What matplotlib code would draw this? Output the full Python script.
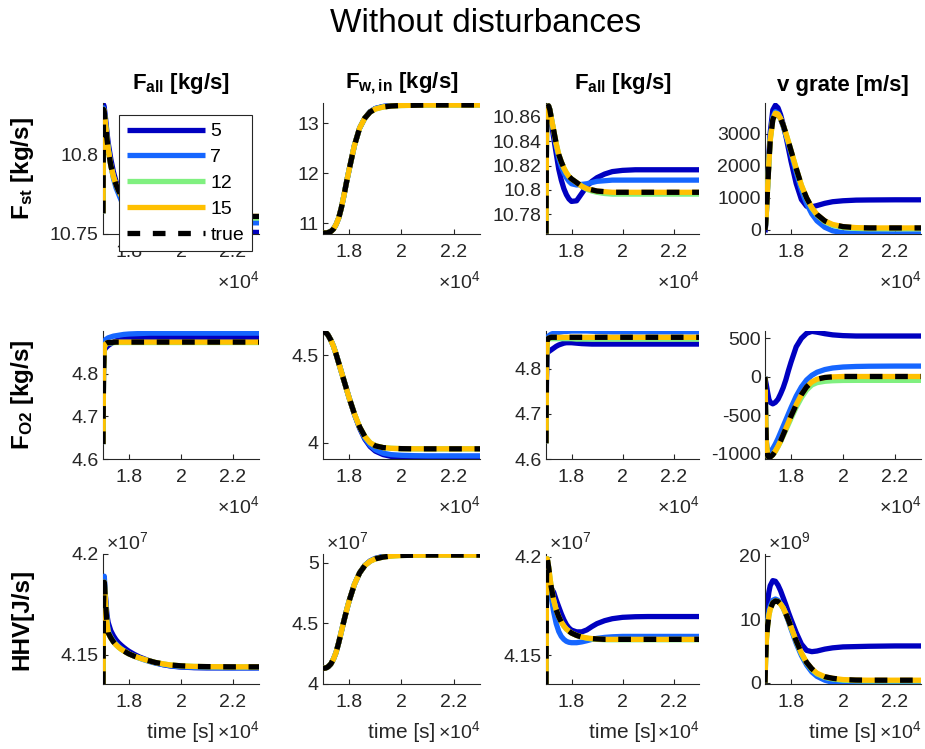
import matplotlib
matplotlib.use('Agg')
import matplotlib.pyplot as plt

plt.rcParams['font.family'] = ['Liberation Sans', 'DejaVu Sans']
plt.rcParams['mathtext.fontset'] = 'custom'
plt.rcParams['mathtext.rm'] = 'Liberation Sans'
plt.rcParams['mathtext.bf'] = 'Liberation Sans:bold'
plt.rcParams['mathtext.it'] = 'Liberation Sans:italic'

# ---------------- data ----------------
time_s = [17000, 17020, 17050, 17100, 17150, 17200, 17300, 17400, 17500, 17600,
          17700, 17800, 17900, 18000, 18200, 18400, 18600, 18800, 19000, 19300,
          19600, 20000, 20500, 21000, 22000, 23000]

series_labels = ['5', '7', '12', '15', 'true']
col_titles = [r'$\mathbf{F_{all}}$ [kg/s]', r'$\mathbf{F_{w,in}}$ [kg/s]',
              r'$\mathbf{F_{all}}$ [kg/s]', 'v grate [m/s]']
row_labels = [r'$\mathbf{F_{st}}$ [kg/s]', r'$\mathbf{F_{O2}}$ [kg/s]', 'HHV[J/s]']
xtick_vals = [18000, 20000, 22000]
xtick_labels = ['1.8', '2', '2.2']

# Row 1: F_st
fst_fall_5 = [10.763, 10.831, 10.829, 10.822, 10.814, 10.807, 10.797, 10.789, 10.783, 10.778, 10.773, 10.769, 10.766, 10.763, 10.759, 10.756, 10.754, 10.753, 10.752, 10.7515, 10.751, 10.751, 10.751, 10.751, 10.751, 10.751]
fst_fall_7 = [10.763, 10.829, 10.827, 10.819, 10.811, 10.804, 10.793, 10.785, 10.779, 10.775, 10.771, 10.768, 10.766, 10.764, 10.762, 10.760, 10.759, 10.758, 10.7575, 10.757, 10.757, 10.757, 10.757, 10.757, 10.757, 10.757]
fst_fall_12 = [10.763, 10.828, 10.826, 10.818, 10.810, 10.803, 10.793, 10.786, 10.781, 10.777, 10.774, 10.771, 10.769, 10.768, 10.766, 10.765, 10.764, 10.763, 10.762, 10.7615, 10.761, 10.7605, 10.760, 10.760, 10.760, 10.760]
fst_fall_15 = [10.763, 10.828, 10.826, 10.818, 10.810, 10.803, 10.793, 10.786, 10.781, 10.777, 10.774, 10.772, 10.770, 10.769, 10.767, 10.766, 10.765, 10.764, 10.763, 10.7625, 10.762, 10.7615, 10.761, 10.761, 10.761, 10.761]
fst_fall_true = [10.763, 10.828, 10.826, 10.818, 10.810, 10.803, 10.793, 10.786, 10.781, 10.777, 10.774, 10.772, 10.770, 10.769, 10.767, 10.766, 10.765, 10.764, 10.763, 10.7625, 10.762, 10.7615, 10.761, 10.761, 10.761, 10.761]

fst_fwin_5 = [10.80, 10.80, 10.80, 10.80, 10.80, 10.81, 10.83, 10.88, 10.97, 11.10, 11.30, 11.55, 11.82, 12.07, 12.55, 12.90, 13.10, 13.225, 13.29, 13.33, 13.35, 13.36, 13.365, 13.37, 13.37, 13.37]
fst_fwin_7 = [10.80, 10.80, 10.80, 10.80, 10.80, 10.81, 10.83, 10.88, 10.97, 11.10, 11.30, 11.55, 11.82, 12.07, 12.55, 12.90, 13.10, 13.225, 13.29, 13.33, 13.35, 13.36, 13.365, 13.37, 13.37, 13.37]
fst_fwin_12 = [10.80, 10.80, 10.80, 10.80, 10.80, 10.81, 10.83, 10.88, 10.97, 11.10, 11.30, 11.55, 11.82, 12.07, 12.55, 12.90, 13.10, 13.22, 13.28, 13.32, 13.34, 13.35, 13.355, 13.36, 13.36, 13.36]
fst_fwin_15 = [10.80, 10.80, 10.80, 10.80, 10.80, 10.81, 10.83, 10.88, 10.97, 11.10, 11.30, 11.55, 11.82, 12.07, 12.55, 12.90, 13.10, 13.22, 13.28, 13.32, 13.34, 13.35, 13.355, 13.36, 13.36, 13.36]
fst_fwin_true = [10.80, 10.80, 10.80, 10.80, 10.80, 10.81, 10.83, 10.88, 10.97, 11.10, 11.30, 11.55, 11.82, 12.07, 12.55, 12.90, 13.10, 13.22, 13.28, 13.32, 13.34, 13.35, 13.355, 13.36, 13.36, 13.36]

fst_fall2_5 = [10.764, 10.852, 10.868, 10.869, 10.864, 10.856, 10.843, 10.830, 10.817, 10.808, 10.801, 10.796, 10.7925, 10.7905, 10.791, 10.797, 10.803, 10.807, 10.810, 10.813, 10.815, 10.816, 10.8165, 10.8165, 10.8165, 10.8165]
fst_fall2_7 = [10.764, 10.850, 10.866, 10.869, 10.866, 10.860, 10.848, 10.836, 10.826, 10.819, 10.814, 10.810, 10.807, 10.805, 10.804, 10.8045, 10.805, 10.806, 10.807, 10.8075, 10.808, 10.808, 10.808, 10.808, 10.808, 10.808]
fst_fall2_12 = [10.764, 10.850, 10.866, 10.869, 10.866, 10.860, 10.849, 10.838, 10.829, 10.823, 10.818, 10.814, 10.811, 10.809, 10.806, 10.803, 10.8005, 10.799, 10.798, 10.797, 10.7965, 10.7965, 10.7965, 10.7965, 10.7965, 10.7965]
fst_fall2_15 = [10.764, 10.850, 10.866, 10.869, 10.866, 10.860, 10.849, 10.838, 10.829, 10.823, 10.818, 10.814, 10.811, 10.809, 10.806, 10.803, 10.801, 10.800, 10.799, 10.7985, 10.798, 10.798, 10.798, 10.798, 10.798, 10.798]
fst_fall2_true = [10.764, 10.850, 10.866, 10.869, 10.866, 10.860, 10.849, 10.838, 10.829, 10.823, 10.818, 10.814, 10.811, 10.809, 10.806, 10.803, 10.801, 10.800, 10.799, 10.7985, 10.798, 10.798, 10.798, 10.798, 10.798, 10.798]

fst_vgrate_5 = [-80, 100, 500, 1400, 2300, 3050, 3750, 3900, 3820, 3600, 3300, 2950, 2550, 2150, 1450, 950, 740, 720, 760, 830, 880, 910, 930, 935, 940, 940]
fst_vgrate_7 = [0, 160, 520, 1350, 2150, 2880, 3520, 3700, 3640, 3470, 3240, 2970, 2690, 2400, 1800, 1250, 820, 500, 280, 80, -30, -90, -115, -120, -125, -125]
fst_vgrate_12 = [0, 150, 500, 1300, 2100, 2800, 3450, 3650, 3620, 3480, 3280, 3030, 2760, 2480, 1920, 1390, 985, 680, 460, 255, 145, 75, 45, 35, 35, 35]
fst_vgrate_15 = [0, 150, 500, 1300, 2100, 2800, 3450, 3650, 3620, 3480, 3280, 3030, 2760, 2480, 1920, 1400, 1000, 700, 480, 280, 170, 100, 70, 60, 60, 60]
fst_vgrate_true = [0, 150, 500, 1300, 2100, 2800, 3450, 3650, 3620, 3480, 3280, 3030, 2760, 2480, 1920, 1400, 1000, 700, 480, 280, 170, 100, 70, 60, 60, 60]

# Row 2: F_O2
fo2_fall_5 = [4.635, 4.800, 4.855, 4.860, 4.863, 4.866, 4.870, 4.874, 4.877, 4.879, 4.880, 4.881, 4.882, 4.883, 4.884, 4.884, 4.885, 4.885, 4.885, 4.885, 4.885, 4.885, 4.885, 4.885, 4.885, 4.885]
fo2_fall_7 = [4.635, 4.820, 4.875, 4.880, 4.882, 4.884, 4.886, 4.888, 4.889, 4.890, 4.891, 4.892, 4.8925, 4.893, 4.8935, 4.894, 4.8945, 4.895, 4.895, 4.895, 4.895, 4.895, 4.895, 4.895, 4.895, 4.895]
fo2_fall_12 = [4.635, 4.800, 4.861, 4.869, 4.871, 4.872, 4.872, 4.8725, 4.873, 4.873, 4.873, 4.873, 4.873, 4.873, 4.873, 4.873, 4.873, 4.873, 4.873, 4.873, 4.873, 4.873, 4.873, 4.873, 4.873, 4.873]
fo2_fall_15 = [4.635, 4.800, 4.862, 4.870, 4.872, 4.873, 4.873, 4.8735, 4.874, 4.874, 4.874, 4.874, 4.874, 4.874, 4.874, 4.874, 4.874, 4.874, 4.874, 4.874, 4.874, 4.874, 4.874, 4.874, 4.874, 4.874]
fo2_fall_true = [4.635, 4.800, 4.862, 4.870, 4.872, 4.873, 4.873, 4.8735, 4.874, 4.874, 4.874, 4.874, 4.874, 4.874, 4.874, 4.874, 4.874, 4.874, 4.874, 4.874, 4.874, 4.874, 4.874, 4.874, 4.874, 4.874]

fo2_fwin_5 = [4.630, 4.630, 4.630, 4.628, 4.622, 4.612, 4.585, 4.550, 4.505, 4.455, 4.405, 4.355, 4.305, 4.255, 4.162, 4.082, 4.020, 3.978, 3.952, 3.932, 3.922, 3.916, 3.914, 3.913, 3.913, 3.913]
fo2_fwin_7 = [4.630, 4.630, 4.630, 4.628, 4.622, 4.612, 4.585, 4.550, 4.505, 4.455, 4.405, 4.355, 4.305, 4.255, 4.163, 4.085, 4.025, 3.985, 3.960, 3.940, 3.932, 3.928, 3.926, 3.925, 3.925, 3.925]
fo2_fwin_12 = [4.630, 4.630, 4.630, 4.628, 4.622, 4.612, 4.585, 4.550, 4.505, 4.455, 4.405, 4.355, 4.305, 4.255, 4.165, 4.090, 4.035, 4.000, 3.982, 3.972, 3.968, 3.966, 3.965, 3.965, 3.965, 3.965]
fo2_fwin_15 = [4.630, 4.630, 4.630, 4.628, 4.622, 4.612, 4.585, 4.550, 4.505, 4.455, 4.405, 4.355, 4.305, 4.255, 4.165, 4.090, 4.035, 4.000, 3.982, 3.972, 3.968, 3.966, 3.965, 3.965, 3.965, 3.965]
fo2_fwin_true = [4.630, 4.630, 4.630, 4.628, 4.622, 4.612, 4.585, 4.550, 4.505, 4.455, 4.405, 4.355, 4.305, 4.255, 4.165, 4.090, 4.035, 4.000, 3.982, 3.972, 3.968, 3.966, 3.965, 3.965, 3.965, 3.965]

fo2_fall2_5 = [4.635, 4.780, 4.835, 4.838, 4.840, 4.842, 4.846, 4.850, 4.853, 4.855, 4.857, 4.858, 4.858, 4.858, 4.857, 4.856, 4.8555, 4.855, 4.855, 4.855, 4.855, 4.855, 4.855, 4.855, 4.855, 4.855]
fo2_fall2_7 = [4.635, 4.830, 4.870, 4.873, 4.875, 4.877, 4.879, 4.880, 4.881, 4.882, 4.883, 4.883, 4.8835, 4.884, 4.884, 4.884, 4.884, 4.8835, 4.883, 4.8825, 4.882, 4.882, 4.882, 4.882, 4.882, 4.882]
fo2_fall2_12 = [4.635, 4.820, 4.864, 4.867, 4.867, 4.867, 4.867, 4.867, 4.867, 4.867, 4.867, 4.867, 4.867, 4.867, 4.866, 4.866, 4.866, 4.866, 4.866, 4.866, 4.866, 4.866, 4.866, 4.866, 4.866, 4.866]
fo2_fall2_15 = [4.635, 4.820, 4.865, 4.868, 4.869, 4.870, 4.870, 4.870, 4.870, 4.870, 4.870, 4.870, 4.870, 4.870, 4.870, 4.870, 4.870, 4.870, 4.870, 4.870, 4.870, 4.870, 4.870, 4.870, 4.870, 4.870]
fo2_fall2_true = [4.635, 4.820, 4.865, 4.868, 4.869, 4.870, 4.870, 4.870, 4.870, 4.870, 4.870, 4.870, 4.870, 4.870, 4.870, 4.870, 4.870, 4.870, 4.870, 4.870, 4.870, 4.870, 4.870, 4.870, 4.870, 4.870]

fo2_vgrate_5 = [0, -50, -100, -200, -290, -330, -350, -330, -290, -220, -140, -40, 80, 190, 390, 500, 565, 590, 580, 560, 545, 535, 530, 530, 530, 530]
fo2_vgrate_7 = [0, -380, -820, -980, -990, -970, -930, -870, -800, -720, -640, -560, -480, -400, -250, -130, -40, 20, 60, 95, 115, 128, 135, 138, 140, 140]
fo2_vgrate_12 = [0, -400, -850, -1020, -1045, -1040, -1010, -965, -905, -840, -765, -690, -615, -540, -395, -270, -170, -105, -75, -57, -50, -46, -45, -45, -45, -45]
fo2_vgrate_15 = [0, -400, -850, -1020, -1045, -1040, -1010, -960, -900, -830, -750, -670, -590, -510, -360, -230, -130, -65, -30, -8, 0, 5, 5, 5, 5, 5]
fo2_vgrate_true = [0, -400, -850, -1020, -1045, -1040, -1010, -960, -900, -830, -750, -670, -590, -510, -360, -230, -130, -65, -30, -8, 0, 5, 5, 5, 5, 5]

# Row 3: HHV (in units of 1e7 J/s, last column 1e9)
hhv_fall_5 = [4.1356, 4.176, 4.187, 4.178, 4.170, 4.166, 4.162, 4.1595, 4.1575, 4.156, 4.1548, 4.1537, 4.1527, 4.1518, 4.1503, 4.149, 4.148, 4.147, 4.1462, 4.1452, 4.1445, 4.144, 4.1437, 4.1436, 4.1436, 4.1436]
hhv_fall_7 = [4.1356, 4.178, 4.189, 4.177, 4.168, 4.162, 4.159, 4.157, 4.1555, 4.1542, 4.1531, 4.1522, 4.1514, 4.1506, 4.1494, 4.1484, 4.1475, 4.1467, 4.146, 4.1452, 4.1446, 4.1441, 4.1438, 4.1437, 4.1436, 4.1436]
hhv_fall_12 = [4.1356, 4.175, 4.186, 4.175, 4.166, 4.161, 4.1585, 4.1565, 4.155, 4.1538, 4.1528, 4.152, 4.1512, 4.1505, 4.1494, 4.1485, 4.1477, 4.147, 4.1463, 4.1456, 4.145, 4.1446, 4.1443, 4.1442, 4.1441, 4.1441]
hhv_fall_15 = [4.1356, 4.175, 4.186, 4.175, 4.166, 4.161, 4.1585, 4.1565, 4.155, 4.1538, 4.1528, 4.152, 4.1512, 4.1505, 4.1494, 4.1485, 4.1477, 4.147, 4.1463, 4.1456, 4.145, 4.1446, 4.1443, 4.1442, 4.1441, 4.1441]
hhv_fall_true = [4.1356, 4.175, 4.186, 4.175, 4.166, 4.161, 4.1585, 4.1565, 4.155, 4.1538, 4.1528, 4.152, 4.1512, 4.1505, 4.1494, 4.1485, 4.1477, 4.147, 4.1463, 4.1456, 4.145, 4.1446, 4.1443, 4.1442, 4.1441, 4.1441]

hhv_fwin_5 = [4.13, 4.13, 4.13, 4.132, 4.136, 4.143, 4.165, 4.205, 4.26, 4.34, 4.43, 4.52, 4.605, 4.685, 4.82, 4.915, 4.977, 5.013, 5.034, 5.05, 5.058, 5.063, 5.065, 5.066, 5.066, 5.066]
hhv_fwin_7 = [4.13, 4.13, 4.13, 4.132, 4.136, 4.143, 4.165, 4.205, 4.26, 4.34, 4.43, 4.52, 4.605, 4.685, 4.82, 4.915, 4.976, 5.012, 5.033, 5.049, 5.057, 5.062, 5.064, 5.065, 5.065, 5.065]
hhv_fwin_12 = [4.13, 4.13, 4.13, 4.132, 4.136, 4.143, 4.165, 4.205, 4.26, 4.34, 4.43, 4.52, 4.605, 4.685, 4.82, 4.915, 4.975, 5.01, 5.03, 5.045, 5.053, 5.058, 5.06, 5.061, 5.061, 5.061]
hhv_fwin_15 = [4.13, 4.13, 4.13, 4.132, 4.136, 4.143, 4.165, 4.205, 4.26, 4.34, 4.43, 4.52, 4.605, 4.685, 4.82, 4.915, 4.975, 5.01, 5.03, 5.045, 5.053, 5.058, 5.06, 5.061, 5.061, 5.061]
hhv_fwin_true = [4.13, 4.13, 4.13, 4.132, 4.136, 4.143, 4.165, 4.205, 4.26, 4.34, 4.43, 4.52, 4.605, 4.685, 4.82, 4.915, 4.975, 5.01, 5.03, 5.045, 5.053, 5.058, 5.06, 5.061, 5.061, 5.061]

hhv_fall2_5 = [4.1353, 4.190, 4.195, 4.187, 4.184, 4.184, 4.182, 4.178, 4.1745, 4.171, 4.168, 4.1655, 4.1638, 4.1627, 4.1618, 4.1618, 4.1628, 4.1645, 4.166, 4.1675, 4.1685, 4.1692, 4.1695, 4.1696, 4.1696, 4.1696]
hhv_fall2_7 = [4.1353, 4.190, 4.199, 4.193, 4.186, 4.180, 4.172, 4.166, 4.162, 4.1595, 4.158, 4.157, 4.1565, 4.1563, 4.1563, 4.1567, 4.1573, 4.158, 4.1585, 4.159, 4.1593, 4.1595, 4.1595, 4.1595, 4.1595, 4.1595]
hhv_fall2_12 = [4.1353, 4.190, 4.199, 4.195, 4.190, 4.185, 4.178, 4.173, 4.1695, 4.1668, 4.1648, 4.1632, 4.1622, 4.1612, 4.1600, 4.1592, 4.1586, 4.1582, 4.158, 4.1578, 4.1578, 4.1578, 4.1578, 4.1578, 4.1578, 4.1578]
hhv_fall2_15 = [4.1353, 4.190, 4.199, 4.195, 4.190, 4.185, 4.178, 4.173, 4.1695, 4.1668, 4.1648, 4.1632, 4.1622, 4.1612, 4.1600, 4.1592, 4.1587, 4.1584, 4.1582, 4.158, 4.158, 4.158, 4.158, 4.158, 4.158, 4.158]
hhv_fall2_true = [4.1353, 4.190, 4.199, 4.195, 4.190, 4.185, 4.178, 4.173, 4.1695, 4.1668, 4.1648, 4.1632, 4.1622, 4.1612, 4.1600, 4.1592, 4.1587, 4.1584, 4.1582, 4.158, 4.158, 4.158, 4.158, 4.158, 4.158, 4.158]

hhv_vgrate_5 = [0, 5.0, 10.0, 12.8, 14.3, 15.3, 16.1, 16.0, 15.4, 14.5, 13.4, 12.3, 11.1, 10.0, 7.9, 6.1, 5.1, 4.9, 5.0, 5.3, 5.5, 5.65, 5.7, 5.75, 5.8, 5.8]
hhv_vgrate_7 = [0, 3.5, 7.0, 9.6, 11.2, 12.1, 13.0, 13.2, 13.0, 12.5, 11.8, 10.8, 9.7, 8.5, 6.2, 4.3, 2.8, 1.7, 1.0, 0.4, 0.05, -0.15, -0.25, -0.3, -0.3, -0.3]
hhv_vgrate_12 = [0, 3.0, 6.5, 9.0, 10.6, 11.6, 12.6, 12.9, 12.8, 12.4, 11.8, 10.9, 9.9, 8.8, 6.5, 4.6, 3.1, 2.1, 1.4, 0.85, 0.6, 0.4, 0.32, 0.3, 0.3, 0.3]
hhv_vgrate_15 = [0, 3.0, 6.5, 9.0, 10.6, 11.6, 12.6, 12.9, 12.8, 12.4, 11.8, 10.9, 9.9, 8.8, 6.6, 4.7, 3.2, 2.2, 1.5, 0.95, 0.7, 0.5, 0.42, 0.4, 0.4, 0.4]
hhv_vgrate_true = [0, 3.0, 6.5, 9.0, 10.6, 11.6, 12.6, 12.9, 12.8, 12.4, 11.8, 10.9, 9.9, 8.8, 6.6, 4.7, 3.2, 2.2, 1.5, 0.95, 0.7, 0.5, 0.42, 0.4, 0.4, 0.4]

# per-panel y ticks
yticks_grid = [
    [[10.75, 10.8], [11, 12, 13], [10.78, 10.8, 10.82, 10.84, 10.86], [0, 1000, 2000, 3000]],
    [[4.6, 4.7, 4.8], [4, 4.5], [4.6, 4.7, 4.8], [-1000, -500, 0, 500]],
    [[4.15, 4.2], [4, 4.5, 5], [4.15, 4.2], [0, 10, 20]],
]
ylabels_grid = [
    [['10.75', '10.8'], ['11', '12', '13'], ['10.78', '10.8', '10.82', '10.84', '10.86'], ['0', '1000', '2000', '3000']],
    [['4.6', '4.7', '4.8'], ['4', '4.5'], ['4.6', '4.7', '4.8'], ['-1000', '-500', '0', '500']],
    [['4.15', '4.2'], ['4', '4.5', '5'], ['4.15', '4.2'], ['0', '10', '20']],
]
ylims_grid = [
    [(10.75, 10.832), (10.78, 13.4), (10.7637, 10.8714), (-130, 3970)],
    [(4.6, 4.9), (3.907, 4.637), (4.6, 4.884), (-1065, 595)],
    [(4.1356, 4.2), (4.0, 5.07), (4.1353, 4.2014), (-0.2, 20.3)],
]
y_exponents = [[None, None, None, None], [None, None, None, None], ['7', '7', '7', '9']]

panels = [
    [(fst_fall_5, fst_fall_7, fst_fall_12, fst_fall_15, fst_fall_true),
     (fst_fwin_5, fst_fwin_7, fst_fwin_12, fst_fwin_15, fst_fwin_true),
     (fst_fall2_5, fst_fall2_7, fst_fall2_12, fst_fall2_15, fst_fall2_true),
     (fst_vgrate_5, fst_vgrate_7, fst_vgrate_12, fst_vgrate_15, fst_vgrate_true)],
    [(fo2_fall_5, fo2_fall_7, fo2_fall_12, fo2_fall_15, fo2_fall_true),
     (fo2_fwin_5, fo2_fwin_7, fo2_fwin_12, fo2_fwin_15, fo2_fwin_true),
     (fo2_fall2_5, fo2_fall2_7, fo2_fall2_12, fo2_fall2_15, fo2_fall2_true),
     (fo2_vgrate_5, fo2_vgrate_7, fo2_vgrate_12, fo2_vgrate_15, fo2_vgrate_true)],
    [(hhv_fall_5, hhv_fall_7, hhv_fall_12, hhv_fall_15, hhv_fall_true),
     (hhv_fwin_5, hhv_fwin_7, hhv_fwin_12, hhv_fwin_15, hhv_fwin_true),
     (hhv_fall2_5, hhv_fall2_7, hhv_fall2_12, hhv_fall2_15, hhv_fall2_true),
     (hhv_vgrate_5, hhv_vgrate_7, hhv_vgrate_12, hhv_vgrate_15, hhv_vgrate_true)],
]

# ---------------- style / layout ----------------
W, H = 925, 749
colors = ['#0000C0', '#1666FF', '#80F080', '#FFC000', 'black']
axcol = '#262626'
col_left = [103, 323, 546, 765]
col_w = [156, 157, 153, 156]
row_top = [103, 331, 554]
row_h = [131, 128, 130]

fig = plt.figure(figsize=(W / 100, H / 100), dpi=100)
fig.patch.set_facecolor('white')

TICK_FS = 14
axes = []
for r in range(3):
    for c in range(4):
        ax = fig.add_axes([col_left[c] / W, 1 - (row_top[r] + row_h[r]) / H,
                           col_w[c] / W, row_h[r] / H])
        data = panels[r][c]
        handles = []
        for k in range(5):
            if k < 4:
                h, = ax.plot(time_s, data[k], color=colors[k], lw=3.8,
                             solid_capstyle='butt', label=series_labels[k], zorder=2 + k)
            else:
                h, = ax.plot(time_s, data[k], color='black', lw=3.8, ls=(0, (2.4, 2.4)),
                             dash_capstyle='butt', label=series_labels[k], zorder=7)
            handles.append(h)
        ax.set_xlim(17000, 23000)
        ax.set_ylim(*ylims_grid[r][c])
        ax.set_xticks(xtick_vals)
        ax.set_xticklabels(xtick_labels)
        ax.set_yticks(yticks_grid[r][c])
        ax.set_yticklabels(ylabels_grid[r][c])
        for s in ['top', 'right']:
            ax.spines[s].set_visible(False)
        for s in ['left', 'bottom']:
            ax.spines[s].set_color(axcol)
            ax.spines[s].set_linewidth(0.8)
        ax.tick_params(axis='both', direction='in', length=3.5, width=0.8,
                       colors=axcol, labelsize=TICK_FS)
        ax.tick_params(axis='x', pad=7)
        ax.tick_params(axis='y', pad=3)
        # x multiplier
        ax.annotate(r'$\times$10$^{4}$', xy=(1, 0), xycoords='axes fraction',
                    xytext=(0, -26), textcoords='offset points', ha='right', va='top',
                    fontsize=TICK_FS, color=axcol)
        if y_exponents[r][c]:
            ax.annotate(r'$\times$10$^{%s}$' % y_exponents[r][c], xy=(0, 1),
                        xycoords='axes fraction', xytext=(2, 1), textcoords='offset points',
                        ha='left', va='bottom', fontsize=TICK_FS, color=axcol)
        if r == 0:
            ax.set_title(col_titles[c], fontsize=16, fontweight='bold', va='bottom', pad=5)
        if r == 2:
            ax.set_xlabel('time [s]', fontsize=15, color=axcol, labelpad=9)
        if r == 0 and c == 0:
            leg = ax.legend(handles=handles, loc='upper left',
                            bbox_to_anchor=(119 / W, 1 - 115 / H),
                            bbox_transform=fig.transFigure, borderaxespad=0,
                            fontsize=TICK_FS, handlelength=4.0, handletextpad=0.3,
                            labelspacing=0.42, borderpad=0.4, fancybox=False,
                            framealpha=1, edgecolor=axcol)
            leg.get_frame().set_linewidth(0.8)
            leg.set_zorder(20)
        axes.append(ax)

row_centers = [row_top[r] + row_h[r] / 2 for r in range(3)]
for r in range(3):
    fig.text(22 / W, 1 - row_centers[r] / H, row_labels[r], rotation=90,
             ha='center', va='center', fontsize=17.5, fontweight='bold')

fig.text(486 / W, 1 - 23 / H, 'Without disturbances', ha='center', va='center', fontsize=24)

fig.savefig('out.png', dpi=100, facecolor='white')
